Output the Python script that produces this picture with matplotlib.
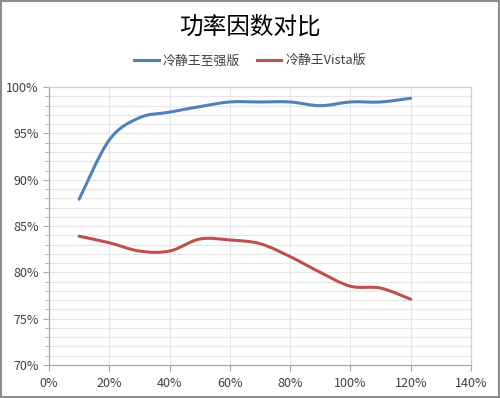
import matplotlib
matplotlib.use("Agg")
import matplotlib.pyplot as plt
from matplotlib.path import Path
from matplotlib.patches import PathPatch, Rectangle
from matplotlib.lines import Line2D
from matplotlib.ticker import MultipleLocator, FuncFormatter

plt.rcParams["font.family"] = ["Noto Sans CJK SC", "DejaVu Sans"]

# load ratio (%) and power factor (%)
load = [10, 20, 30, 40, 50, 60, 70, 80, 90, 100, 110, 120]
xeon_pf = [87.9, 94.3, 96.7, 97.3, 97.9, 98.4, 98.4, 98.4, 98.0, 98.4, 98.4, 98.8]
vista_pf = [83.9, 83.2, 82.3, 82.3, 83.6, 83.5, 83.1, 81.7, 80.0, 78.5, 78.3, 77.1]
series_names = ["冷静王至强版", "冷静王Vista版"]
series_colors = ["#4F81BD", "#C0504D"]

TEXT_COLOR = "#404040"
GRID_COLOR = "#E6E6E6"
AXIS_COLOR = "#A6A6A6"


def smooth_path(xs, ys):
    # Excel-like smoothed line: Catmull-Rom segments as cubic Bezier curves
    pts = list(zip(xs, ys))
    n = len(pts)
    verts = [pts[0]]
    codes = [Path.MOVETO]
    for i in range(n - 1):
        p0 = pts[i - 1] if i > 0 else pts[i]
        p1 = pts[i]
        p2 = pts[i + 1]
        p3 = pts[i + 2] if i + 2 < n else pts[i + 1]
        c1 = (p1[0] + (p2[0] - p0[0]) / 6, p1[1] + (p2[1] - p0[1]) / 6)
        c2 = (p2[0] - (p3[0] - p1[0]) / 6, p2[1] - (p3[1] - p1[1]) / 6)
        verts += [c1, c2, p2]
        codes += [Path.CURVE4] * 3
    return Path(verts, codes)


fig = plt.figure(figsize=(5.0, 3.98), dpi=100)
ax = fig.add_axes([0.098, 0.083, 0.844, 0.698])

for ys, color in zip([xeon_pf, vista_pf], series_colors):
    patch = PathPatch(smooth_path(load, ys), facecolor="none", edgecolor=color,
                      linewidth=2.2, capstyle="round", joinstyle="round", zorder=3)
    ax.add_patch(patch)

ax.set_xlim(0, 140)
ax.set_ylim(70, 100)
ax.xaxis.set_major_locator(MultipleLocator(20))
ax.yaxis.set_major_locator(MultipleLocator(5))
ax.yaxis.set_minor_locator(MultipleLocator(1))
pct = FuncFormatter(lambda v, _: f"{v:.0f}%")
ax.xaxis.set_major_formatter(pct)
ax.yaxis.set_major_formatter(pct)

ax.grid(True, which="major", axis="x", color=GRID_COLOR, linewidth=0.8)
ax.grid(True, which="both", axis="y", color=GRID_COLOR, linewidth=0.8)
ax.set_axisbelow(True)

for side in ["left", "bottom", "top", "right"]:
    ax.spines[side].set_color(AXIS_COLOR)
    ax.spines[side].set_linewidth(0.9)
ax.spines["top"].set_color("#D0D0D0")
ax.spines["right"].set_color("#D0D0D0")

ax.tick_params(axis="both", which="major", colors=AXIS_COLOR, labelcolor=TEXT_COLOR,
               labelsize=9, length=4, direction="out")
ax.tick_params(axis="y", which="minor", colors=AXIS_COLOR, length=3, direction="out")
ax.tick_params(axis="x", pad=5)

fig.text(0.5, 0.932, "功率因数对比", ha="center", va="center", fontsize=17, color="#000000")

handles = [Line2D([0], [0], color=c, linewidth=2.2) for c in series_colors]
fig.legend(handles, series_names, loc="center", bbox_to_anchor=(0.5, 0.847), ncol=2,
           frameon=False, fontsize=9.3, handlelength=1.9, handletextpad=0.3,
           columnspacing=1.3, labelcolor=TEXT_COLOR)

fig.patches.append(Rectangle((0.002, 0.002), 0.996, 0.996, transform=fig.transFigure,
                             fill=False, edgecolor="#8C8C8C", linewidth=1.5))

fig.savefig("out.png", dpi=100)
plt.close(fig)
